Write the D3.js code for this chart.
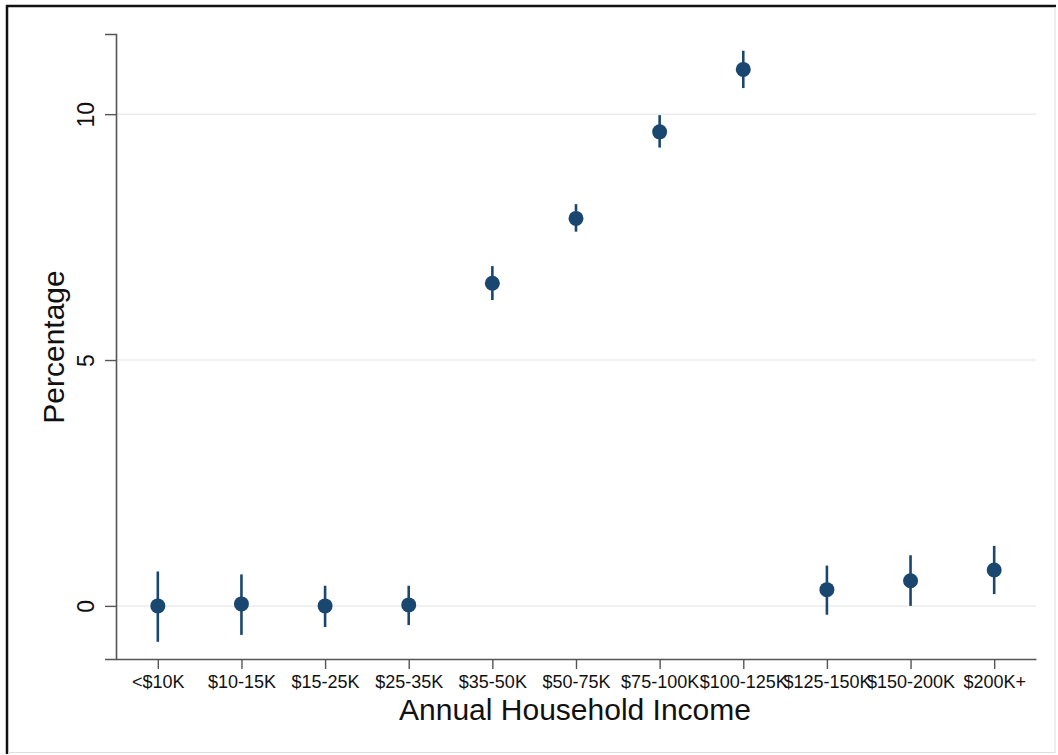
<!DOCTYPE html>
<html>
<head>
<meta charset="utf-8">
<script src="https://cdn.jsdelivr.net/npm/d3@7"></script>
<style>
  body { margin: 0; background: #fff; }
  text { font-family: "Liberation Sans", Arial, sans-serif; }
</style>
</head>
<body>
<div id="chart"></div>
<script>
// data
const categories = ["<$10K", "$10-15K", "$15-25K", "$25-35K", "$35-50K", "$50-75K",
  "$75-100K", "$100-125K", "$125-150K", "$150-200K", "$200K+"];
const estimates = [0.0, 0.04, 0.0, 0.02, 6.56, 7.88, 9.64, 10.91, 0.33, 0.51, 0.73];
const upper = [0.70, 0.64, 0.41, 0.41, 6.91, 8.17, 9.98, 11.29, 0.82, 1.03, 1.22];
const lower = [-0.73, -0.59, -0.43, -0.39, 6.22, 7.61, 9.32, 10.53, -0.18, 0.0, 0.24];
const yTicks = [0, 5, 10];

const width = 1058, height = 755;
const navy = "#1a476f";

const svg = d3.select("#chart")
  .append("svg")
  .attr("width", width)
  .attr("height", height);

// outer frame
svg.append("line").attr("x1", 6).attr("x2", 1056).attr("y1", 6).attr("y2", 6)
  .attr("stroke", "#111").attr("stroke-width", 2.5);
svg.append("line").attr("x1", 7).attr("x2", 7).attr("y1", 5).attr("y2", 754)
  .attr("stroke", "#111").attr("stroke-width", 2.5);
svg.append("line").attr("x1", 1055).attr("x2", 1055).attr("y1", 7).attr("y2", 753)
  .attr("stroke", "#ddd").attr("stroke-width", 1);
svg.append("line").attr("x1", 8).attr("x2", 1055).attr("y1", 752.5).attr("y2", 752.5)
  .attr("stroke", "#ddd").attr("stroke-width", 1);

const x = d3.scalePoint()
  .domain(categories)
  .range([116, 1036])
  .padding(0.5);

const y = d3.scaleLinear()
  .domain([-1.08, 11.63])
  .range([659, 34]);

// gridlines
svg.selectAll(".grid")
  .data(yTicks)
  .enter()
  .append("line")
  .attr("x1", 117)
  .attr("x2", 1036)
  .attr("y1", d => y(d))
  .attr("y2", d => y(d))
  .attr("stroke", "#ececec")
  .attr("stroke-width", 1.5);

// y axis
const yAxis = svg.append("g")
  .attr("transform", "translate(116,0)")
  .call(d3.axisLeft(y).tickValues(yTicks).tickSize(11).tickFormat(d3.format("d")));
yAxis.select(".domain").attr("stroke", "#555").attr("stroke-width", 1.6);
yAxis.selectAll(".tick line").attr("stroke", "#555").attr("stroke-width", 1.4);
yAxis.selectAll(".tick text")
  .attr("fill", "#111")
  .style("font-size", "23px")
  .attr("text-anchor", "middle")
  .attr("transform", "rotate(-90)")
  .attr("x", 0)
  .attr("y", -22)
  .attr("dy", "0");

// x axis
const xAxis = svg.append("g")
  .attr("transform", "translate(0,659)")
  .call(d3.axisBottom(x).tickSizeInner(10).tickSizeOuter(0));
xAxis.select(".domain").attr("stroke", "#555").attr("stroke-width", 1.6);
xAxis.selectAll(".tick line").attr("stroke", "#555").attr("stroke-width", 1.4);
xAxis.selectAll(".tick text")
  .attr("fill", "#111")
  .style("font-size", "18px")
  .attr("y", 16)
  .attr("dy", "0.71em");

// axis titles
svg.append("text")
  .attr("x", 575)
  .attr("y", 720)
  .attr("text-anchor", "middle")
  .style("font-size", "30px")
  .attr("fill", "#111")
  .text("Annual Household Income");

svg.append("text")
  .attr("transform", "translate(64,347) rotate(-90)")
  .attr("text-anchor", "middle")
  .style("font-size", "30px")
  .attr("fill", "#111")
  .text("Percentage");

// error bars
svg.selectAll(".ci")
  .data(categories)
  .enter()
  .append("line")
  .attr("x1", d => x(d))
  .attr("x2", d => x(d))
  .attr("y1", (d, i) => y(upper[i]))
  .attr("y2", (d, i) => y(lower[i]))
  .attr("stroke", navy)
  .attr("stroke-width", 2.6);

// point estimates
svg.selectAll(".pt")
  .data(categories)
  .enter()
  .append("circle")
  .attr("cx", d => x(d))
  .attr("cy", (d, i) => y(estimates[i]))
  .attr("r", 7.5)
  .attr("fill", navy);
</script>
</body>
</html>
